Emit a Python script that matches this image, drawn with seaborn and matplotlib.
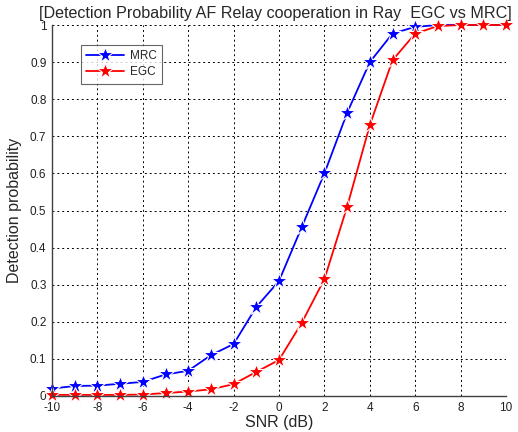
import matplotlib
matplotlib.use("Agg")
import matplotlib.pyplot as plt
import seaborn as sns
import pandas as pd

snr = [-10, -9, -8, -7, -6, -5, -4, -3, -2, -1, 0, 1, 2, 3, 4, 5, 6, 7, 8, 9, 10]
mrc = [0.020, 0.027, 0.028, 0.033, 0.038, 0.058, 0.068, 0.110, 0.140, 0.240, 0.310,
       0.455, 0.600, 0.763, 0.900, 0.977, 0.995, 1.0, 1.0, 1.0, 1.0]
egc = [0.003, 0.003, 0.003, 0.003, 0.004, 0.008, 0.012, 0.018, 0.032, 0.065, 0.097,
       0.197, 0.315, 0.510, 0.730, 0.905, 0.977, 0.997, 1.0, 1.0, 1.0]
series = ["MRC", "EGC"]
colors = {"MRC": "#0000ff", "EGC": "#ff0000"}
xticks = [-10, -8, -6, -4, -2, 0, 2, 4, 6, 8, 10]
yticks = [0, 0.1, 0.2, 0.3, 0.4, 0.5, 0.6, 0.7, 0.8, 0.9, 1]

df = pd.concat([
    pd.DataFrame({"SNR": snr, "Pd": mrc, "Scheme": "MRC"}),
    pd.DataFrame({"SNR": snr, "Pd": egc, "Scheme": "EGC"}),
])

sns.set_style("white")
plt.rcParams['font.family'] = ['Liberation Sans', 'DejaVu Sans']

fig = plt.figure(figsize=(5.18, 4.32), dpi=100)
ax = fig.add_axes([52/518, 1 - 396/432, (506-52)/518, (396-25)/432])

sns.lineplot(data=df, x="SNR", y="Pd", hue="Scheme", hue_order=series, palette=colors,
             marker="*", markersize=12, linewidth=1.3, markeredgewidth=0.8, ax=ax,
             clip_on=False)

ax.set_xlim(-10, 10)
ax.set_ylim(0, 1)
ax.set_xticks(xticks)
ax.set_xticklabels([str(v) for v in xticks])
ax.set_yticks(yticks)
ax.set_yticklabels(["0", "0.1", "0.2", "0.3", "0.4", "0.5", "0.6", "0.7", "0.8", "0.9", "1"])
ax.grid(True, color="black", linestyle=(0, (2, 3)), linewidth=0.7)
ax.set_axisbelow(True)
for s in ["top", "right"]:
    ax.spines[s].set_visible(False)
for s in ["left", "bottom"]:
    ax.spines[s].set_color("#404040")
    ax.spines[s].set_linewidth(1.0)
ax.tick_params(direction="in", length=3, labelsize=8.5, colors="#404040", labelcolor="#202020",
               pad=4)
ax.set_xlabel("SNR (dB)", fontsize=11.5, labelpad=1)
ax.set_ylabel("Detection probability", fontsize=11.5, labelpad=6)
ax.set_title("[Detection Probability AF Relay cooperation in Ray  EGC vs MRC]", fontsize=11.6,
             pad=5, x=0.493)

leg = ax.legend(loc="upper left", bbox_to_anchor=(0.064, 0.946), fontsize=8.5, frameon=True,
                fancybox=False, edgecolor="#404040", borderaxespad=0, handlelength=3.2,
                borderpad=0.45, labelspacing=0.35, handletextpad=0.5)
leg.get_frame().set_linewidth(0.8)

fig.savefig("out.png", dpi=100)
